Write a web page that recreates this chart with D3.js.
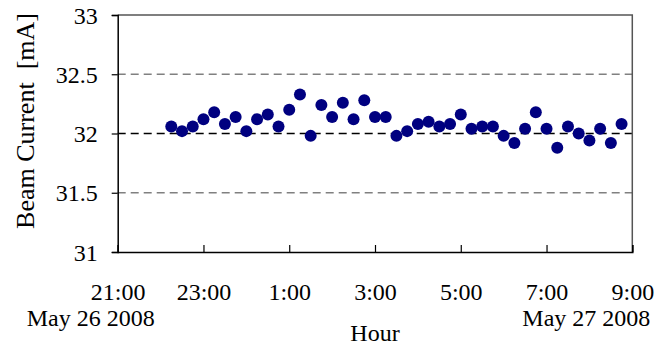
<!DOCTYPE html>
<html>
<head>
<meta charset="utf-8">
<script src="https://cdn.jsdelivr.net/npm/d3@7/dist/d3.min.js"></script>
<style>
  body { margin: 0; background: #fff; }
  .grid { stroke: #808080; stroke-dasharray: 8,5; stroke-width: 1.3; }
  .grid.mid { stroke: #000; }
  .dot { fill: #000080; }
</style>
</head>
<body>
<div class="chart"></div>
<script>
// readings, every 15 min
var times = ["2008-05-26 22:15", "2008-05-26 22:30", "2008-05-26 22:45", "2008-05-26 23:00",
  "2008-05-26 23:15", "2008-05-26 23:30", "2008-05-26 23:45", "2008-05-27 00:00",
  "2008-05-27 00:15", "2008-05-27 00:30", "2008-05-27 00:45", "2008-05-27 01:00",
  "2008-05-27 01:15", "2008-05-27 01:30", "2008-05-27 01:45", "2008-05-27 02:00",
  "2008-05-27 02:15", "2008-05-27 02:30", "2008-05-27 02:45", "2008-05-27 03:00",
  "2008-05-27 03:15", "2008-05-27 03:30", "2008-05-27 03:45", "2008-05-27 04:00",
  "2008-05-27 04:15", "2008-05-27 04:30", "2008-05-27 04:45", "2008-05-27 05:00",
  "2008-05-27 05:15", "2008-05-27 05:30", "2008-05-27 05:45", "2008-05-27 06:00",
  "2008-05-27 06:15", "2008-05-27 06:30", "2008-05-27 06:45", "2008-05-27 07:00",
  "2008-05-27 07:15", "2008-05-27 07:30", "2008-05-27 07:45", "2008-05-27 08:00",
  "2008-05-27 08:15", "2008-05-27 08:30", "2008-05-27 08:45"];

var current = [32.06, 32.02, 32.06, 32.12, 32.18, 32.08, 32.14, 32.02, 32.12, 32.16,
  32.06, 32.20, 32.33, 31.98, 32.24, 32.14, 32.26, 32.12, 32.28, 32.14,
  32.14, 31.98, 32.02, 32.08, 32.10, 32.06, 32.08, 32.16, 32.04, 32.06,
  32.06, 31.98, 31.92, 32.04, 32.18, 32.04, 31.88, 32.06, 32.00, 31.94,
  32.04, 31.92, 32.08];

var y_ticks = [31, 31.5, 32, 32.5, 33],
  x_ticks = ["2008-05-26 21:00", "2008-05-26 23:00", "2008-05-27 01:00", "2008-05-27 03:00",
    "2008-05-27 05:00", "2008-05-27 07:00", "2008-05-27 09:00"],
  date_labels = [{t: "2008-05-26 21:00", label: "May 26 2008"}, {t: "2008-05-27 09:00", label: "May 27 2008"}];

var width = 669, height = 347;
var margin = {left: 117.7, right: 669 - 632.3, top: 15, bottom: 347 - 252};
var serif = "'Liberation Serif', Tinos, 'Times New Roman', 'DejaVu Serif', serif";

var parse = d3.timeParse("%Y-%m-%d %H:%M");

var x = d3.scaleTime()
  .domain([parse(x_ticks[0]), parse(x_ticks[x_ticks.length - 1])])
  .range([margin.left, width - margin.right]);

var y = d3.scaleLinear()
  .domain([31, 33])
  .range([height - margin.bottom, margin.top]);

var svg = d3.select(".chart").append("svg")
    .attr("width", width)
    .attr("height", height)
    .style("font-family", serif);

// gridlines
svg.selectAll(".grid")
    .data(y_ticks.filter(function(d){ return d > 31 && d < 33; }))
  .enter().append("line")
    .attr("class", function(d){ return d == 32 ? "grid mid" : "grid"; })
    .attr("x1", x.range()[0])
    .attr("x2", x.range()[1])
    .attr("y1", function(d){ return y(d); })
    .attr("y2", function(d){ return y(d); });

// frame top / right
svg.append("path")
    .attr("d", "M" + x.range()[0] + "," + y(33) + "H" + x.range()[1] + "V" + y(31))
    .attr("fill", "none")
    .attr("stroke", "#555")
    .attr("stroke-width", 1.5);

// y axis
var y_axis = svg.append("g")
    .attr("transform", "translate(" + x.range()[0] + ",0)")
    .call(d3.axisLeft(y).tickValues(y_ticks).tickSize(6).tickPadding(14).tickFormat(d3.format("")));

y_axis.select(".domain").attr("stroke", "#000").attr("stroke-width", 1.5);
y_axis.selectAll(".tick line").attr("stroke", "#000").attr("stroke-width", 1.2);
y_axis.selectAll(".tick text")
    .style("font-family", serif)
    .attr("font-size", 24)
    .attr("dy", "0.34em");

// x axis
var x_axis = svg.append("g")
    .attr("transform", "translate(0," + y(31) + ")")
    .call(d3.axisBottom(x).tickValues(x_ticks.map(parse)).tickSize(-7).tickPadding(0)
      .tickFormat(d3.timeFormat("%-H:%M")));

x_axis.select(".domain").attr("stroke", "#000").attr("stroke-width", 1.5);
x_axis.selectAll(".tick line").attr("stroke", "#000").attr("stroke-width", 1.2);
x_axis.selectAll(".tick text")
    .style("font-family", serif)
    .attr("font-size", 24)
    .attr("y", 48)
    .attr("dy", 0);

svg.selectAll(".date-label")
    .data(date_labels)
  .enter().append("text")
    .attr("class", "date-label")
    .style("font-family", serif)
    .attr("x", function(d, i){ return x(parse(d.t)) + (i == 0 ? 37 : 18); })
    .attr("y", 326)
    .attr("text-anchor", "end")
    .attr("font-size", 24)
    .text(function(d){ return d.label; });

// titles
svg.append("text")
    .style("font-family", serif)
    .attr("x", (x.range()[0] + x.range()[1]) / 2)
    .attr("y", 341)
    .attr("text-anchor", "middle")
    .attr("font-size", 24)
    .text("Hour");

svg.append("text")
    .style("font-family", serif)
    .attr("transform", "translate(34," + 121 + ") rotate(-90)")
    .attr("text-anchor", "middle")
    .attr("font-size", 26)
    .style("white-space", "pre")
    .text("Beam Current  [mA]");

// points
svg.selectAll(".dot")
    .data(times.map(function(t, i){ return {t: parse(t), v: current[i]}; }))
  .enter().append("circle")
    .attr("class", "dot")
    .attr("cx", function(d){ return x(d.t); })
    .attr("cy", function(d){ return y(d.v); })
    .attr("r", 6);
</script>
</body>
</html>
